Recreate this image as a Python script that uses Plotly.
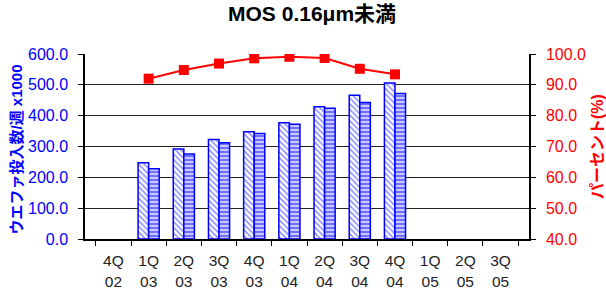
import plotly.graph_objects as go

categories = ["4Q<br>02", "1Q<br>03", "2Q<br>03", "3Q<br>03", "4Q<br>03", "1Q<br>04",
              "2Q<br>04", "3Q<br>04", "4Q<br>04", "1Q<br>05", "2Q<br>05", "3Q<br>05"]
series_a = [None, 247, 292, 323, 348, 377, 429, 466, 506, None, None, None]
series_b = [None, 228, 276, 312, 342, 372, 424, 443, 472, None, None, None]
percent = [None, 92.0, 94.8, 96.9, 98.6, 99.1, 98.7, 95.2, 93.4, None, None, None]

left_title = "ウエファ投入数/週 x1000"
right_title = "パーセント(%)"
chart_title = "MOS 0.16μm未満"

FONT = "Liberation Sans, Arial, Noto Sans CJK JP, sans-serif"

fig = go.Figure()
fig.add_trace(go.Bar(
    x=categories, y=series_a, name="A",
    marker=dict(color="white", line=dict(color="#0000ff", width=1.5),
                pattern=dict(shape="\\", fgcolor="#0000ff", bgcolor="white", size=4, solidity=0.35)),
))
fig.add_trace(go.Bar(
    x=categories, y=series_b, name="B",
    marker=dict(color="white", line=dict(color="#0000ff", width=1.5),
                pattern=dict(shape="-", fgcolor="#1a1aff", bgcolor="#c8c8ff", size=4, solidity=0.5)),
))
fig.add_trace(go.Scatter(
    x=categories, y=percent, yaxis="y2", mode="lines+markers",
    line=dict(color="#ff0000", width=2),
    marker=dict(symbol="square", size=10, color="#ff0000"),
))

fig.update_layout(
    width=606, height=297,
    margin=dict(l=85, r=77, t=54, b=58, autoexpand=False),
    paper_bgcolor="white", plot_bgcolor="white",
    showlegend=False,
    barmode="group", bargap=0.4, bargroupgap=0,
    font=dict(family=FONT, size=14, color="black"),
    title=dict(text="<b>" + chart_title + "</b>", x=0.515, xanchor="center",
               y=1 - 14 / 297, yanchor="middle",
               font=dict(size=21, color="black", family=FONT)),
    xaxis=dict(
        type="category", tickson="boundaries", ticks="outside", ticklen=5, tickcolor="black",
        showline=True, linecolor="black", linewidth=1.5, showgrid=False, automargin=False,
        tickfont=dict(size=15.5, color="#222222"), ticklabelstandoff=7,
    ),
    yaxis=dict(
        range=[0, 600], dtick=100, tickformat=".1f", ticks="outside", ticklen=5, tickcolor="black",
        showline=True, linecolor="black", linewidth=1.5, automargin=False,
        showgrid=True, gridcolor="#222222", gridwidth=1, zeroline=False,
        tickfont=dict(size=16, color="#0000ff"), ticklabelstandoff=7,
    ),
    yaxis2=dict(
        range=[40, 100], dtick=10, tickformat=".1f", ticks="outside", ticklen=5, tickcolor="black",
        overlaying="y", side="right", automargin=False,
        showline=True, linecolor="black", linewidth=1.5, showgrid=False, zeroline=False,
        tickfont=dict(size=16, color="#ff0000"), ticklabelstandoff=7,
    ),
    annotations=[
        dict(text="<b>" + left_title + "</b>", xref="paper", yref="paper",
             x=(15.5 - 85) / 444, y=(239 - 150) / 185, xanchor="center", yanchor="middle",
             textangle=-90, showarrow=False, font=dict(size=15, color="#0000ff", family=FONT)),
        dict(text="<b>" + right_title + "</b>", xref="paper", yref="paper",
             x=(597 - 85) / 444, y=(239 - 147) / 185, xanchor="center", yanchor="middle",
             textangle=-90, showarrow=False, font=dict(size=16, color="#ff0000", family=FONT)),
    ],
)

fig.write_html("out.html", config={"displayModeBar": False},
               post_script="document.body.style.margin='0';document.body.style.overflow='hidden';")
